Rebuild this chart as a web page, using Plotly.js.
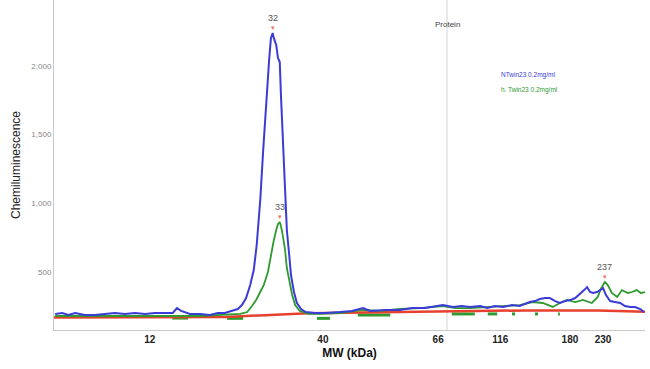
<!DOCTYPE html>
<html><head><meta charset="utf-8">
<script src="https://cdn.plot.ly/plotly-3.0.1.min.js"></script>
<style>html,body{margin:0;padding:0;background:#fff}#chart{width:650px;height:369px}</style>
</head><body><div id="chart"></div>
<script>
// Migration position (arbitrary units, 0-100) and signals
const blueX = [0.2,1.4,2.4,3.6,5.2,6.9,8.6,10.3,12.0,13.7,15.4,17.1,18.8,20.1,20.8,21.5,23.0,24.7,26.4,27.7,28.9,30.1,31.1,31.8,32.5,33.2,33.8,34.3,34.9,35.4,35.9,36.4,36.7,37.0,37.2,37.6,37.9,38.2,38.4,38.7,39.1,39.4,39.8,40.1,40.6,41.1,41.8,42.6,44.2,45.9,48.4,50.4,52.3,53.5,56.0,58.5,60.6,62.8,64.8,65.8,67.5,69.0,70.4,72.1,73.3,74.6,76.0,77.5,78.8,79.9,80.5,81.4,82.2,83.1,83.9,84.8,85.6,86.5,87.3,88.2,89.0,89.7,90.2,90.7,91.2,91.9,92.4,92.9,93.4,94.1,94.9,95.8,96.6,97.5,98.3,99.2,99.8];
const blueY = [192,199,184,199,184,184,192,199,192,199,192,199,199,199,235,214,192,192,184,199,199,214,228,257,308,403,512,695,1023,1388,1752,2043,2203,2240,2203,2153,2058,2029,1788,1460,1096,804,622,476,352,272,228,206,199,199,206,214,235,214,221,221,235,235,250,257,243,250,243,250,235,250,243,257,250,272,279,286,301,308,308,286,272,286,293,308,337,366,388,352,345,352,366,381,330,286,279,272,250,243,243,228,206];

const greenX = [0.2,7.8,16.2,24.7,31.5,32.7,33.5,34.2,34.9,35.5,36.2,36.7,37.2,37.6,37.9,38.2,38.4,38.7,39.1,39.4,39.8,40.3,40.8,41.6,43.0,45.0,48.4,52.3,55.2,58.5,61.9,65.8,67.9,70.4,73.8,76.6,78.8,81.0,82.7,84.4,85.6,86.8,88.2,89.5,91.0,92.0,92.6,93.2,93.7,94.4,95.3,96.1,97.1,97.8,98.6,99.3,100];
const greenY = [177,177,177,177,192,206,250,294,352,403,498,622,731,804,848,862,833,768,658,527,425,330,257,214,192,192,199,221,214,228,235,250,235,235,243,250,257,279,272,243,272,294,279,294,272,316,381,425,403,345,316,366,345,352,366,345,352];

const baseX = [0,29,43,65,80,92,100];
const baseY = [167,170,197,210,218,218,208];

// fitted baseline segments (green)
const segX = [20.0,22.7,null,29.3,32.0,null,44.5,46.7,null,51.4,56.9,null,67.3,71.2,null,73.4,75.0,null,77.5,78.0,null,81.4,81.9,null,85.3,85.6];
const segY = [162,162,null,160,160,null,160,160,null,184,184,null,192,192,null,192,192,null,192,192,null,192,192,null,192,192];

const peakX = [37.0,38.2,93.2];
const peakY = [2240,862,425];
const peakLabels = ['32','33','237'];

const tickPos = [16.2,45.5,65.0,75.5,87.3,92.9];
const tickLabels = ['12','40','66','116','180','230'];

const proteinX = 66.5;
const seriesNames = ['NTwin23 0.2mg/ml','h. Twin23 0.2mg/ml'];
const seriesColors = ['#3b3bd8','#2f9a2f'];

const traces = [
  {x: segX, y: segY, mode:'lines', line:{color:'#2f9a2f', width:3}, connectgaps:false, hoverinfo:'skip'},
  {x: baseX, y: baseY, mode:'lines', line:{color:'#e8402e', width:2.5}},
  {x: greenX, y: greenY, mode:'lines', line:{color:seriesColors[1], width:1.8}},
  {x: blueX, y: blueY, mode:'lines', line:{color:seriesColors[0], width:2}}
];

const annotations = [];
peakX.forEach((px,i)=>{
  annotations.push({x:px, y:peakY[i], xref:'x', yref:'y', text:'▾', showarrow:false, yanchor:'bottom', yshift:0, font:{size:7, color:'#f07060'}});
  annotations.push({x:px, y:peakY[i], xref:'x', yref:'y', text:peakLabels[i], showarrow:false, yanchor:'bottom', yshift:8, font:{size:9, color:'#555'}});
});
annotations.push({x:proteinX, y:0.945, xref:'x', yref:'paper', text:'Protein', showarrow:false, font:{size:8, color:'#444'}});
seriesNames.forEach((n,i)=>{
  annotations.push({x:75.3, y:1-(69+i*15)/330, xref:'x', yref:'paper', text:n, showarrow:false, xanchor:'left', font:{size:6.5, color:seriesColors[i]}});
});

const layout = {
  width:650, height:369,
  margin:{l:54, r:5, t:0, b:39},
  paper_bgcolor:'#fff', plot_bgcolor:'#fff',
  showlegend:false,
  font:{family:'Liberation Sans, Arial, sans-serif'},
  xaxis:{range:[0,100], showgrid:false, zeroline:false, showline:true, linecolor:'#c8c8c8', linewidth:1,
    tickmode:'array', tickvals:tickPos, ticktext:tickLabels, ticks:'', tickfont:{size:10, color:'#222', weight:'bold'},
    title:{text:'MW (kDa)', font:{size:12, color:'#111', weight:'bold'}, standoff:4}},
  yaxis:{range:[75,2481], showgrid:false, zeroline:false, showline:true, linecolor:'#c8c8c8', linewidth:1,
    tickvals:[500,1000,1500,2000], tickformat:',', ticks:'', tickfont:{size:8, color:'#888'},
    title:{text:'Chemiluminescence', font:{size:12, color:'#222'}, standoff:8}},
  shapes:[{type:'line', xref:'x', yref:'paper', x0:proteinX, x1:proteinX, y0:0, y1:1, line:{color:'#d4d4d4', width:1}, layer:'below'}],
  annotations: annotations
};
Plotly.newPlot('chart', traces, layout, {displayModeBar:false, staticPlot:true});
</script></body></html>
